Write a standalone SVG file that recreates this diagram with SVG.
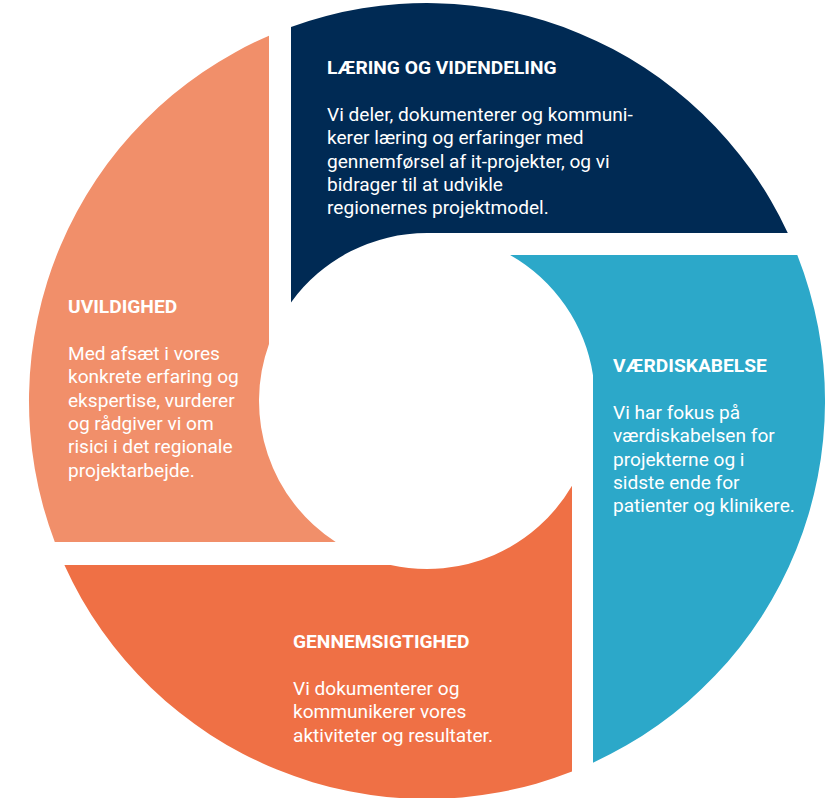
<svg xmlns="http://www.w3.org/2000/svg" width="838" height="798" viewBox="0 0 838 798">
<style>
  .t { font-family: Roboto, "Liberation Sans", sans-serif; fill: #ffffff; }
  .h { font-size: 19.2px; font-weight: 700; }
  .b { font-size: 19.1px; font-weight: 400; }
</style>
<rect width="838" height="798" fill="#ffffff"/>
<g id="laering">
  <path d="M291,27 L291,302.4 A168,168 0 0 1 427,233 L787.8,233 A398,398 0 0 0 291,27 Z" fill="#002A54"/>
  <text class="t h" x="327" y="74">LÆRING OG VIDENDELING</text>
  <text class="t b" x="327" y="121">Vi deler, dokumenterer og kommuni-</text>
  <text class="t b" x="327" y="144.3">kerer læring og erfaringer med</text>
  <text class="t b" x="327" y="167.6">gennemførsel af it-projekter, og vi</text>
  <text class="t b" x="327" y="191">bidrager til at udvikle</text>
  <text class="t b" x="327" y="214.3">regionernes projektmodel.</text>
</g>
<g id="vaerdiskabelse">
  <path d="M510.1,255 L797.3,255 A398,398 0 0 1 593,762.7 L593,375.2 A168,168 0 0 0 510.1,255 Z" fill="#2CA8C9"/>
  <text class="t h" x="613" y="372">VÆRDISKABELSE</text>
  <text class="t b" x="613" y="419">Vi har fokus på</text>
  <text class="t b" x="613" y="442.3">værdiskabelsen for</text>
  <text class="t b" x="613" y="465.6">projekterne og i</text>
  <text class="t b" x="613" y="489">sidste ende for</text>
  <text class="t b" x="613" y="512.3">patienter og klinikere.</text>
</g>
<g id="gennemsigtighed">
  <path d="M64.4,565 L390.6,565 A168,168 0 0 0 572,485.8 L572,771.6 A398,398 0 0 1 64.4,565 Z" fill="#EF7045"/>
  <text class="t h" x="293" y="648">GENNEMSIGTIGHED</text>
  <text class="t b" x="293" y="695">Vi dokumenterer og</text>
  <text class="t b" x="293" y="718.3">kommunikerer vores</text>
  <text class="t b" x="293" y="741.6">aktiviteter og resultater.</text>
</g>
<g id="uvildighed">
  <path d="M269,35.7 L269,343.9 A168,168 0 0 0 335.7,542 L54.8,542 A398,398 0 0 1 269,35.7 Z" fill="#F18F6A"/>
  <text class="t h" x="68" y="313">UVILDIGHED</text>
  <text class="t b" x="68" y="360">Med afsæt i vores</text>
  <text class="t b" x="68" y="383.3">konkrete erfaring og</text>
  <text class="t b" x="68" y="406.6">ekspertise, vurderer</text>
  <text class="t b" x="68" y="430">og rådgiver vi om</text>
  <text class="t b" x="68" y="453.3">risici i det regionale</text>
  <text class="t b" x="68" y="476.6">projektarbejde.</text>
</g>
<g id="connectors"></g>
</svg>
